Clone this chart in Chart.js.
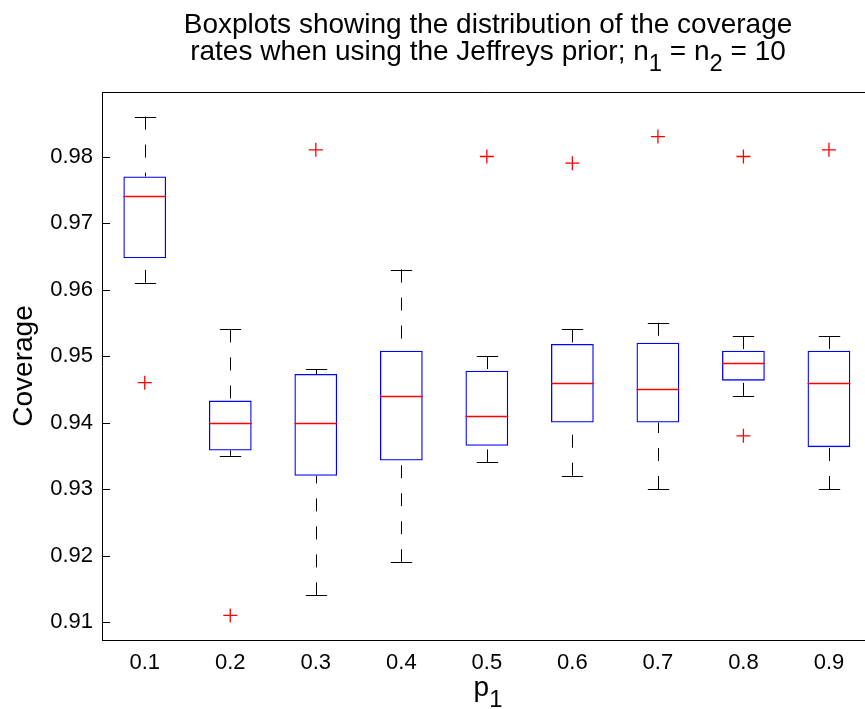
<!DOCTYPE html>
<html>
<head>
<meta charset="utf-8">
<script src="https://cdn.jsdelivr.net/npm/chart.js@4.4.0/dist/chart.umd.min.js"></script>
<style>
  html, body { margin: 0; padding: 0; background: #fff; overflow: hidden; }
  #wrap { position: relative; width: 880px; height: 709px; font-family: "Liberation Sans", Arial, sans-serif; color: #000; }
  #chart { position: absolute; left: 0; top: 0; }
  .title { position: absolute; left: 102px; width: 772px; top: 10px; text-align: center; font-size: 28px; line-height: 27px; white-space: nowrap; }
  .xlabel { position: absolute; left: 102px; width: 772px; top: 673px; text-align: center; font-size: 28px; line-height: 28px; }
  sub { font-size: 0.85em; vertical-align: -0.45em; line-height: 0; }
</style>
</head>
<body>
<div id="wrap">
  <canvas id="chart" width="880" height="709"></canvas>
  <div class="title">Boxplots showing the distribution of the coverage<br>rates when using the Jeffreys prior; n<sub>1</sub> = n<sub>2</sub> = 10</div>
  <div class="xlabel">p<sub>1</sub></div>
</div>
<script>
// categories (p1)
const categories = ['0.1', '0.2', '0.3', '0.4', '0.5', '0.6', '0.7', '0.8', '0.9'];

// box stats
const whiskerLow  = [0.961, 0.935, 0.914, 0.919, 0.934, 0.932, 0.930, 0.944, 0.930];
const q1          = [0.9647, 0.9358, 0.932, 0.9343, 0.9365, 0.940, 0.940, 0.9463, 0.9363];
const medians     = [0.974, 0.940, 0.940, 0.944, 0.941, 0.946, 0.945, 0.949, 0.946];
const q3          = [0.977, 0.9433, 0.9473, 0.9508, 0.9478, 0.9518, 0.952, 0.9508, 0.9508];
const whiskerHigh = [0.986, 0.954, 0.948, 0.963, 0.950, 0.954, 0.955, 0.953, 0.953];

// outliers
const outlierCat = ['0.1', '0.2', '0.3', '0.5', '0.6', '0.7', '0.8', '0.8', '0.9'];
const outlierVal = [0.946, 0.911, 0.981, 0.980, 0.979, 0.983, 0.980, 0.938, 0.981];

// y axis
const yTicks = [0.91, 0.92, 0.93, 0.94, 0.95, 0.96, 0.97, 0.98];
const yMin = 0.9073;
const yMax = 0.9897;

const FONT = '"Liberation Sans", Arial, sans-serif';

// whiskers, caps, medians, top border and inward ticks
const boxExtras = {
  id: 'boxExtras',
  beforeDatasetsDraw(chart) {
    const ctx = chart.ctx;
    const xs = chart.scales.x;
    const ys = chart.scales.y;
    const catW = xs.width / categories.length;
    ctx.save();
    ctx.strokeStyle = '#000';
    ctx.lineWidth = 1;
    categories.forEach((c, i) => {
      const x = Math.round(xs.getPixelForValue(i)) + 0.5;
      const yHi = ys.getPixelForValue(whiskerHigh[i]);
      const yQ3 = ys.getPixelForValue(q3[i]);
      const yQ1 = ys.getPixelForValue(q1[i]);
      const yLo = ys.getPixelForValue(whiskerLow[i]);
      // dashed whisker lines
      ctx.setLineDash([13, 15]);
      ctx.beginPath();
      ctx.moveTo(x, yHi);
      ctx.lineTo(x, yQ3);
      ctx.moveTo(x, yLo);
      ctx.lineTo(x, yQ1);
      ctx.stroke();
      // caps
      ctx.setLineDash([]);
      const half = catW * 0.125;
      ctx.beginPath();
      ctx.moveTo(x - half, Math.round(yHi) + 0.5);
      ctx.lineTo(x + half, Math.round(yHi) + 0.5);
      ctx.moveTo(x - half, Math.round(yLo) + 0.5);
      ctx.lineTo(x + half, Math.round(yLo) + 0.5);
      ctx.stroke();
    });
    ctx.restore();
  },
  afterDatasetsDraw(chart) {
    const ctx = chart.ctx;
    const xs = chart.scales.x;
    const ys = chart.scales.y;
    const area = chart.chartArea;
    const catW = xs.width / categories.length;
    ctx.save();
    // medians
    ctx.strokeStyle = '#ff0000';
    ctx.lineWidth = 1.3;
    categories.forEach((c, i) => {
      const x = xs.getPixelForValue(i);
      const y = Math.round(ys.getPixelForValue(medians[i])) + 0.5;
      ctx.beginPath();
      ctx.moveTo(x - catW * 0.25, y);
      ctx.lineTo(x + catW * 0.25, y);
      ctx.stroke();
    });
    // top border
    ctx.strokeStyle = '#000';
    ctx.lineWidth = 1;
    ctx.beginPath();
    ctx.moveTo(area.left, area.top + 0.5);
    ctx.lineTo(area.right, area.top + 0.5);
    ctx.stroke();
    // inward y ticks
    yTicks.forEach(v => {
      const y = Math.round(ys.getPixelForValue(v)) + 0.5;
      ctx.beginPath();
      ctx.moveTo(area.left, y);
      ctx.lineTo(area.left + 8, y);
      ctx.stroke();
    });
    ctx.restore();
  }
};

new Chart(document.getElementById('chart'), {
  type: 'bar',
  data: {
    labels: categories,
    datasets: [
      {
        label: 'outliers',
        type: 'scatter',
        data: outlierCat.map((c, i) => ({ x: c, y: outlierVal[i] })),
        pointStyle: 'cross',
        pointRadius: 7,
        pointHoverRadius: 7,
        borderColor: '#ff0000',
        borderWidth: 1.3,
        showLine: false
      },
      {
        label: 'boxes',
        data: categories.map((c, i) => [q1[i], q3[i]]),
        backgroundColor: 'rgba(0,0,0,0)',
        borderColor: '#0000ff',
        borderWidth: 1.3,
        borderSkipped: false,
        barPercentage: 0.5,
        categoryPercentage: 1
      }
    ]
  },
  options: {
    responsive: false,
    animation: false,
    layout: { padding: { top: 92, right: 6, bottom: 0, left: 0 } },
    plugins: {
      legend: { display: false },
      tooltip: { enabled: false },
      title: { display: false }
    },
    scales: {
      x: {
        type: 'category',
        offset: true,
        grid: { display: false, drawTicks: false },
        border: { display: true, color: '#000', width: 1 },
        ticks: { color: '#000', font: { family: FONT, size: 22 }, padding: 10, maxRotation: 0 },
        afterFit: s => { s.height = 69; }
      },
      y: {
        type: 'linear',
        min: yMin,
        max: yMax,
        grid: { display: false, drawTicks: false },
        border: { display: true, color: '#000', width: 1 },
        afterBuildTicks: s => { s.ticks = yTicks.map(v => ({ value: v })); },
        ticks: {
          color: '#000',
          font: { family: FONT, size: 22 },
          padding: 9,
          callback: v => v.toFixed(2)
        },
        title: {
          display: true,
          text: 'Coverage',
          color: '#000',
          font: { family: FONT, size: 28 },
          padding: { top: 7, bottom: 0 }
        },
        afterFit: s => { s.width = 102; }
      }
    }
  },
  plugins: [boxExtras]
});
</script>
</body>
</html>
